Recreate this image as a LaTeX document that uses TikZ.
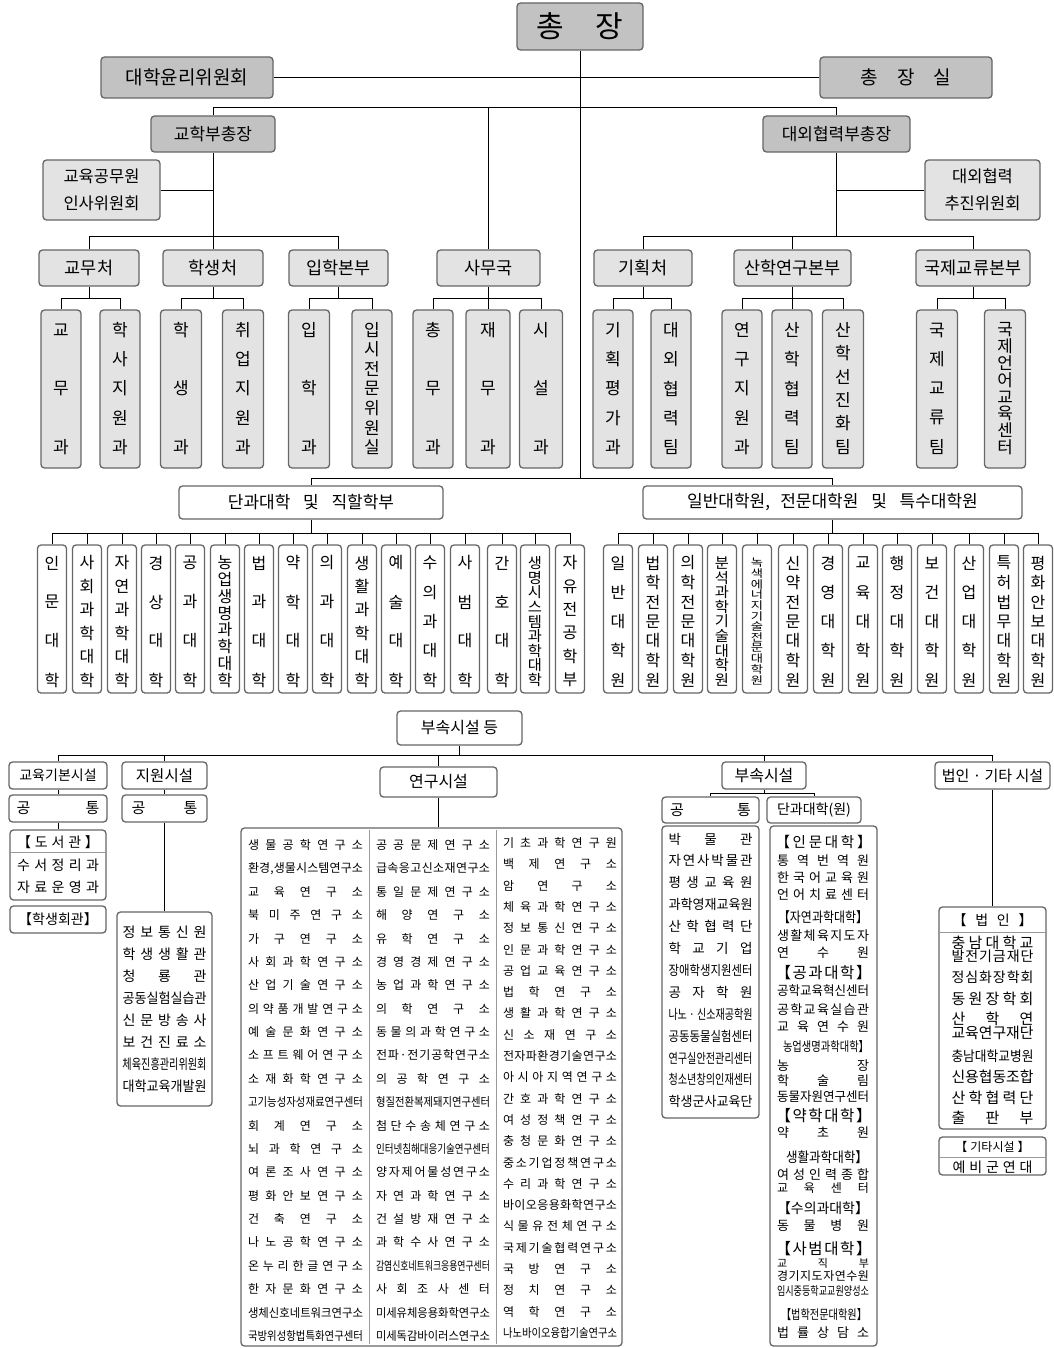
\documentclass[tikz,border=0pt]{standalone}
\usepackage{fontspec}
\setmainfont{Noto Sans CJK KR}
\usepackage{graphicx}
\makeatletter
\newcommand\dist[2]{%
  \sbox\z@{#2}%
  \ifdim\wd\z@>#1pt\relax
    \resizebox{#1pt}{\height}{#2}%
  \else
    \edef\dist@tmp{#2}%
    \makebox[#1pt][s]{\expandafter\dist@\dist@tmp\@nil}%
  \fi}
\def\dist@#1#2\@nil{#1\ifx\relax#2\relax\else\hfill\dist@#2\@nil\fi}
\makeatother
\newcommand\fs[1]{\fontsize{#1}{#1}\selectfont}
\tikzset{
  box/.style={draw=black!60, line width=1.3pt, rounded corners=3.5pt, inner sep=0pt},
  gbox/.style={box, fill=black!24},
  lbox/.style={box, fill=black!11},
  wbox/.style={box, fill=white},
  vbox/.style={lbox},
  conn/.style={draw=black, line width=0.8pt},
  sepline/.style={draw=black!40, line width=0.8pt},
  txt/.style={inner sep=0pt},
}
\newcommand\bx[6]{\node[#1, minimum width={#4-#2}, minimum height={#5-#3}] (#6) at ({(#2+#4)/2},{(#3+#5)/2})}
\newcommand\vcol[9]{%
  \node[vbox, minimum width=#3, minimum height=#5-#4] (#1) at (#2,{(#4+#5)/2}) {};
  \foreach \ch [count=\i] in {#9} {\xdef\vn{\i}}
  \pgfmathsetmacro\vsp{(#7-#6)/(\vn-1)}
  \pgfmathsetmacro\vsc{min(1,\vsp/(#8*1.0))}
  \pgfmathsetmacro\vxs{min(1,0.5+0.5*\vsc)}
  \foreach \ch [count=\i] in {#9} {\node[txt, font=\fs{#8}] (#1-\i) at (#2,{#6+(\i-1)*\vsp}) {\scalebox{\vxs}[\vsc]{\ch}};}
}
\newcommand\vA[4]{\vcol{#1}{#2}{#3}{310}{468}{330}{447}{17}{#4}}
\newcommand\vB[3]{\vcol{#1}{#2}{29}{545}{693}{563}{680}{16}{#3}}
\newcommand\forkk[3]{\draw[conn] (#1.south) -- (#1.south|-b4); \draw[conn] (#2.north) -- (#2.north|-b4) -- (#3.north|-b4) -- (#3.north);}
\newcommand\forkm[1]{\draw[conn] (#1.north) -- (#1.north|-b4);}
\newcommand\vlist[7]{\foreach \itm [count=\i] in {#7} {\node[txt, font=\fs{#6}] (#1-\i) at (#2,{#3+(\i-1)*#4}) {\dist{#5}{\itm}};}}
\newcommand\ti[6]{\node[txt,font=\fs{#5}] (#1) at (#2,#3) {\dist{#4}{#6}};}
\begin{document}
\begin{tikzpicture}[x=1pt,y=-1pt]
\useasboundingbox (0,0) rectangle (1053,1348);
\coordinate (b2) at (0,107);
\coordinate (b3) at (0,236);
\coordinate (b4) at (0,298);
\coordinate (b5) at (0,478);
\coordinate (b6) at (0,533);
\coordinate (b7) at (0,755);
\coordinate (b8) at (0,793);
% ---------- top ----------
\bx{gbox,font=\fs{30}}{517}{3}{643}{50}{chong}{총\hspace{32pt}장};
\bx{gbox,font=\fs{19}}{101}{57}{273}{98}{ethics}{대학윤리위원회};
\bx{gbox,font=\fs{19}}{820}{57}{992}{98}{office}{총\hspace{19pt}장\hspace{19pt}실};
\bx{gbox,font=\fs{17}}{151}{116}{275}{152}{vp1}{교학부총장};
\bx{gbox,font=\fs{17}}{763}{116}{910}{152}{vp2}{대외협력부총장};
\bx{lbox,font=\fs{16.5},align=center}{43}{160}{160}{220}{hrc}{교육공무원\\[11pt]인사위원회};
\bx{lbox,font=\fs{16.5},align=center}{925}{160}{1040}{220}{exc}{대외협력\\[11pt]추진위원회};
\bx{lbox,font=\fs{17.5}}{39}{250}{139}{286}{gyomu}{교무처};
\bx{lbox,font=\fs{17.5}}{163}{250}{263}{286}{haksaeng}{학생처};
\bx{lbox,font=\fs{17.5}}{289}{250}{388}{286}{iphak}{입학본부};
\bx{lbox,font=\fs{17.5}}{437}{250}{540}{286}{samu}{사무국};
\bx{lbox,font=\fs{17.5}}{594}{250}{692}{286}{gihoek}{기획처};
\bx{lbox,font=\fs{17.5}}{734}{250}{851}{286}{sanhak}{산학연구본부};
\bx{lbox,font=\fs{17.5}}{916}{250}{1030}{286}{gukje}{국제교류본부};
% ---------- row 4 ----------
\tikzset{vbox/.style={lbox}}
\vA{gm}{61}{40}{교,무,과}
\vA{hs}{120}{40}{학,사,지,원,과}
\vA{hsg}{181}{41}{학,생,과}
\vA{cj}{243}{41}{취,업,지,원,과}
\vA{ih}{309}{41}{입,학,과}
\vA{is}{372}{40}{입,시,전,문,위,원,실}
\vA{cm}{433}{40}{총,무,과}
\vA{jm}{488}{44}{재,무,과}
\vA{sg}{541}{43}{시,설,과}
\vA{gp}{613}{40}{기,획,평,가,과}
\vA{dh}{671}{40}{대,외,협,력,팀}
\vA{yj}{742}{40}{연,구,지,원,과}
\vA{sh}{792}{40}{산,학,협,력,팀}
\vA{sj}{843}{41}{산,학,선,진,화,팀}
\vA{gg}{937}{41}{국,제,교,류,팀}
\vA{ge}{1005}{41}{국,제,언,어,교,육,센,터}
% connectors top
\draw[conn] (ethics.east) -- (office.west);
\draw[conn] (chong.south) -- (chong.south|-b5);
\draw[conn] (vp1.north) -- (vp1.north|-b2) -- (vp2.north|-b2) -- (vp2.north);
\draw[conn] (samu.north) -- (samu.north|-b2);
\draw[conn] (haksaeng.north) -- (vp1.south);
\draw[conn] (hrc.east) -- (hrc.east-|vp1.south);
\draw[conn] (gyomu.north) -- (gyomu.north|-b3) -- (iphak.north|-b3) -- (iphak.north);
\draw[conn] (vp2.south) -- (vp2.south|-b3);
\draw[conn] (exc.west) -- (exc.west-|vp2.south);
\draw[conn] (gihoek.north) -- (gihoek.north|-b3) -- (gukje.north|-b3) -- (gukje.north);
\draw[conn] (sanhak.north) -- (sanhak.north|-b3);
\forkk{gyomu}{gm}{hs}
\forkk{haksaeng}{hsg}{cj}
\forkk{iphak}{ih}{is}
\forkk{samu}{cm}{sg}
\forkm{jm}
\forkk{gihoek}{gp}{dh}
\forkk{sanhak}{yj}{sj}
\forkm{sh}
\forkk{gukje}{gg}{ge}
% ---------- colleges ----------
\bx{wbox,font=\fs{17}}{179}{486}{443}{519}{dan}{단과대학\hspace{0.75em}및\hspace{0.75em}직할학부};
\bx{wbox,font=\fs{17}}{643}{486}{1022}{519}{grad}{일반대학원,\hspace{0.6em}전문대학원\hspace{0.75em}및\hspace{0.75em}특수대학원};
\draw[conn] (dan.north) -- (dan.north|-b5) -- (grad.north|-b5) -- (grad.north);
\tikzset{vbox/.style={wbox}}
\vB{c1}{52}{인,문,대,학}
\vB{c2}{87}{사,회,과,학,대,학}
\vB{c3}{122}{자,연,과,학,대,학}
\vB{c4}{156}{경,상,대,학}
\vB{c5}{190}{공,과,대,학}
\vB{c6}{225}{농,업,생,명,과,학,대,학}
\vB{c7}{259}{법,과,대,학}
\vB{c8}{293}{약,학,대,학}
\vB{c9}{327}{의,과,대,학}
\vB{c10}{362}{생,활,과,학,대,학}
\vB{c11}{396}{예,술,대,학}
\vB{c12}{430}{수,의,과,대,학}
\vB{c13}{465}{사,범,대,학}
\vB{c14}{502}{간,호,대,학}
\vB{c15}{535}{생,명,시,스,템,과,학,대,학}
\vB{c16}{570}{자,유,전,공,학,부}
\vB{g1}{618}{일,반,대,학,원}
\vB{g2}{653}{법,학,전,문,대,학,원}
\vB{g3}{688}{의,학,전,문,대,학,원}
\vB{g4}{722}{분,석,과,학,기,술,대,학,원}
\vB{g5}{757}{녹,색,에,너,지,기,술,전,문,대,학,원}
\vB{g6}{793}{신,약,전,문,대,학,원}
\vB{g7}{828}{경,영,대,학,원}
\vB{g8}{863}{교,육,대,학,원}
\vB{g9}{897}{행,정,대,학,원}
\vB{g10}{932}{보,건,대,학,원}
\vB{g11}{969}{산,업,대,학,원}
\vB{g12}{1004}{특,허,법,무,대,학,원}
\vB{g13}{1038}{평,화,안,보,대,학,원}
\draw[conn] (dan.south) -- (dan.south|-b6);
\draw[conn] (c1.north|-b6) -- (c16.north|-b6);
\foreach \k in {1,...,16} {\draw[conn] (c\k.north) -- (c\k.north|-b6);}
\draw[conn] (grad.south) -- (grad.south|-b6);
\draw[conn] (g1.north|-b6) -- (g13.north|-b6);
\foreach \k in {1,...,13} {\draw[conn] (g\k.north) -- (g\k.north|-b6);}
% ---------- facilities ----------
\bx{wbox,font=\fs{16}}{397}{711}{522}{745}{bu}{부속시설 등};
\bx{wbox,font=\fs{14}}{9}{762}{107}{789}{edu}{교육기본시설};
\bx{wbox,font=\fs{15.5}}{122}{762}{207}{789}{sup}{지원시설};
\bx{wbox,font=\fs{16}}{380}{767}{497}{797}{res}{연구시설};
\bx{wbox,font=\fs{16}}{722}{762}{806}{789}{att}{부속시설};
\bx{wbox,font=\fs{15}}{935}{762}{1050}{789}{law}{법인 · 기타 시설};
\bx{wbox,font=\fs{15}}{9}{795}{107}{822}{educom}{\dist{83}{공통}};
\bx{wbox,font=\fs{15}}{122}{795}{207}{822}{supcom}{\dist{66}{공통}};
\bx{wbox,font=\fs{15}}{662}{797}{759}{823}{attcom}{\dist{81}{공통}};
\bx{wbox,font=\fs{14}}{767}{797}{861}{823}{attcol}{단과대학(원)};
\draw[conn] (bu.south) -- (bu.south|-b7);
\draw[conn] (edu.north|-b7) -- (law.north|-b7);
\foreach \n in {edu,sup,res,att,law} {\draw[conn] (\n.north) -- (\n.north|-b7);}
\draw[conn] (edu.south) -- (educom.north);
\draw[conn] (sup.south) -- (supcom.north);
\draw[conn] (att.south) -- (att.south|-b8);
\draw[conn] (attcom.north) -- (attcom.north|-b8) -- (attcol.north|-b8) -- (attcol.north);
% library
\bx{wbox}{10}{830}{106}{900}{lib}{};
\draw[conn] (educom.south) -- (lib.north);
\draw[sepline] (11,852) -- (105,852);
\ti{lib-h}{58}{842}{82}{14}{【도서관】}
\ti{lib-1}{58}{865}{82}{14}{수서정리과}
\ti{lib-2}{58}{887}{82}{14}{자료운영과}
\bx{wbox,font=\fs{14}}{10}{906}{106}{933}{hall}{【학생회관】};
% support list
\bx{wbox}{117}{912}{212}{1106}{suplist}{};
\draw[conn] (supcom.south) -- (suplist.north);
\vlist{sl}{164.5}{932}{22.1}{84}{14}{정보통신원,학생생활관,청룡관,공동실험실습관,신문방송사,보건진료소,체육진흥관리위원회,대학교육개발원}
% research
\bx{wbox}{241}{828}{622}{1346}{reslist}{};
\draw[conn] (res.south) -- (res.south|-reslist.north);
\draw[sepline] (369,830) -- (369,1344);
\draw[sepline] (496,830) -- (496,1344);
\vlist{r1}{305.5}{845}{23.38}{115}{12}{생물공학연구소,환경{,}생물시스템연구소,교육연구소,북미주연구소,가구연구소,사회과학연구소,산업기술연구소,의약품개발연구소,예술문화연구소,소프트웨어연구소,소재화학연구소,고기능성자성재료연구센터,회계연구소,뇌과학연구소,여론조사연구소,평화안보연구소,건축연구소,나노공학연구소,온누리한글연구소,한자문화연구소,생체신호네트워크연구소,국방위성항법특화연구센터}
\vlist{r2}{433}{845}{23.38}{114}{12}{공공문제연구소,급속응고신소재연구소,통일문제연구소,해양연구소,유학연구소,경영경제연구소,농업과학연구소,의학연구소,동물의과학연구소,전파 · 전기공학연구소,의공학연구소,형질전환복제돼지연구센터,첨단수송체연구소,인터넷침해대응기술연구센터,양자제어물성연구소,자연과학연구소,건설방재연구소,과학수사연구소,감염신호네트워크응용연구센터,사회조사센터,미세유체응용화학연구소,미세독감바이러스연구소}
\vlist{r3}{560}{843}{21.3}{114}{12}{기초과학연구원,백제연구소,암연구소,체육과학연구소,정보통신연구소,인문과학연구소,공업교육연구소,법학연구소,생활과학연구소,신소재연구소,전자파환경기술연구소,아시아지역연구소,간호과학연구소,여성정책연구소,충청문화연구소,중소기업정책연구소,수리과학연구소,바이오응용화학연구소,식물유전체연구소,국제기술협력연구소,국방연구소,정치연구소,역학연구소,나노바이오융합기술연구소}
% attached common list
\bx{wbox}{662}{826}{759}{1118}{attlist}{};
\vlist{al}{710.5}{839}{21.9}{84}{13.5}{박물관,자연사박물관,평생교육원,과학영재교육원,산학협력단,학교기업,장애학생지원센터,공자학원,나노 · 신소재공학원,공동동물실험센터,연구실안전관리센터,청소년창의인재센터,학생군사교육단}
% attached college list
\bx{wbox}{770}{826}{877}{1346}{attcl}{};
\ti{k1}{823.5}{842}{96}{14.5}{【인문대학】}
\ti{k2}{823}{861}{92}{13}{통역번역원}
\ti{k3}{823}{878}{92}{13}{한국어교육원}
\ti{k4}{823}{895}{92}{13}{언어치료센터}
\ti{k5}{823}{917}{90}{14}{【자연과학대학】}
\ti{k6}{823}{936}{92}{13}{생활체육지도자}
\ti{k7}{823}{953}{92}{13}{연수원}
\ti{k8}{823.5}{973}{96}{15.5}{【공과대학】}
\ti{k9}{823}{991}{92}{13}{공학교육혁신센터}
\ti{k10}{823}{1010}{92}{13}{공학교육실습관}
\ti{k11}{823}{1027}{92}{13}{교육연수원}
\ti{k12}{826}{1047}{86}{13}{농업생명과학대학】}
\ti{k13}{823}{1066}{92}{13}{농장}
\ti{k14}{823}{1081}{92}{13}{학술림}
\ti{k15}{823}{1097}{92}{13}{동물자원연구센터}
\ti{k16}{823.5}{1116}{96}{15.5}{【약학대학】}
\ti{k17}{823}{1133}{92}{13}{약초원}
\ti{k18}{827}{1157}{82}{14}{생활과학대학】}
\ti{k19}{823}{1175}{92}{13}{여성인력종합}
\ti{k20}{823}{1188}{92}{12}{교육센터}
\ti{k21}{823}{1208}{92}{14}{【수의과대학】}
\ti{k22}{823}{1226}{92}{13}{동물병원}
\ti{k23}{823.5}{1249}{96}{15.5}{【사범대학】}
\ti{k24}{823}{1263}{92}{11}{교직부}
\ti{k25}{823}{1276}{92}{12}{경기지도자연수원}
\ti{k26}{823}{1291}{92}{12}{임시중등학교교원양성소}
\ti{k27}{824}{1315}{86}{13}{【법학전문대학원】}
\ti{k28}{823}{1333}{92}{13}{법률상담소}
% corporations
\bx{wbox}{939}{907}{1046}{1129}{corp}{};
\draw[conn] (law.south) -- (corp.north);
\draw[sepline] (940,932) -- (1045,932);
\ti{p0}{992.5}{920}{80}{14}{【법인】}
\ti{p1}{992.5}{943}{82}{15}{충남대학교}
\ti{p2}{992.5}{956}{82}{14}{발전기금재단}
\ti{p3}{992.5}{977}{82}{14}{정심화장학회}
\ti{p4}{992.5}{999}{82}{15}{동원장학회}
\ti{p5}{992.5}{1019}{82}{15}{산학연}
\ti{p6}{992.5}{1033}{82}{15}{교육연구재단}
\ti{p7}{992.5}{1056}{82}{14}{충남대학교병원}
\ti{p8}{992.5}{1077}{82}{15}{신용협동조합}
\ti{p9}{992.5}{1098}{82}{15}{산학협력단}
\ti{p10}{992.5}{1118}{82}{15}{출판부}
\bx{wbox}{939}{1137}{1046}{1175}{etc}{};
\draw[sepline] (940,1157) -- (1045,1157);
\node[txt,font=\fs{12}] (e0) at (992.5,1147) {【\hspace{3pt}기타시설\hspace{3pt}】};
\ti{e1}{992.5}{1167}{80}{14}{예비군연대}
\end{tikzpicture}
\end{document}
